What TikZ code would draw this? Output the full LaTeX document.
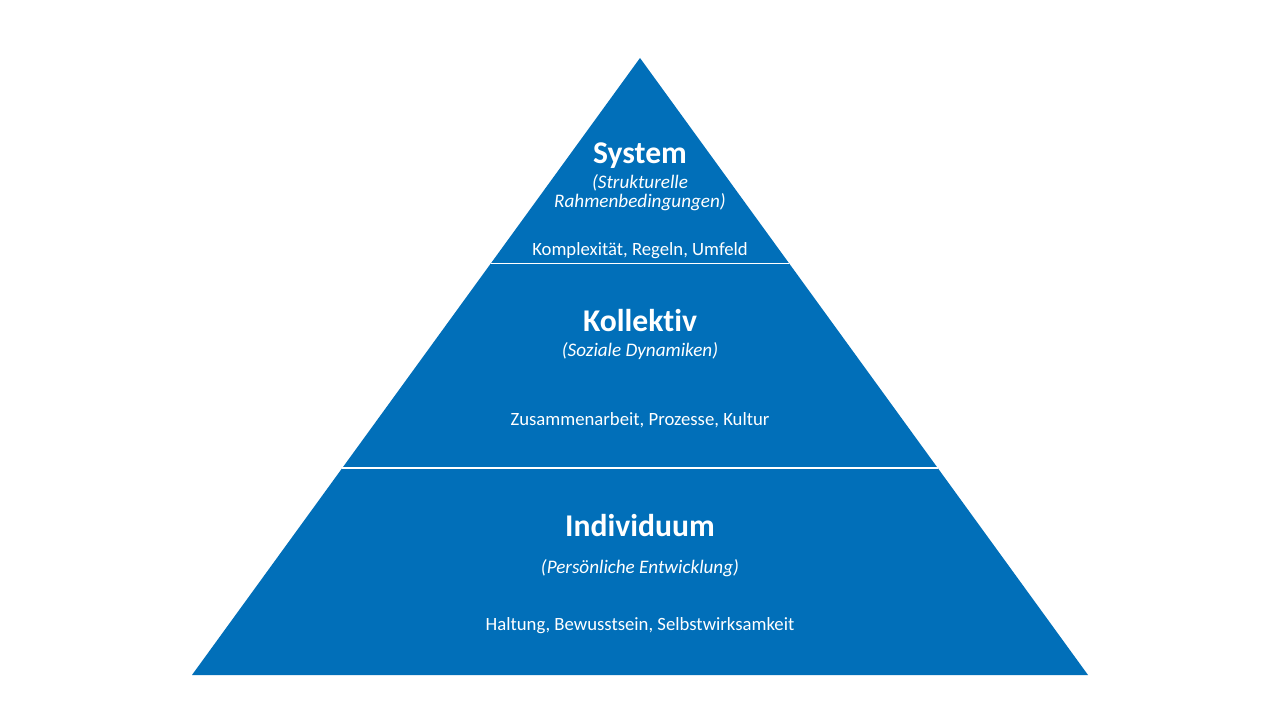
\documentclass[tikz,border=0pt]{standalone}
\usepackage{fontspec}
\setmainfont{Carlito}[Ligatures=NoCommon]
\usetikzlibrary{calc}
\definecolor{pyrblue}{RGB}{1,111,185}

\begin{document}
\begin{tikzpicture}[
      title/.style={text=white,font=\fontsize{18}{21}\selectfont\bfseries},
      subtitle/.style={text=white,font=\fontsize{10.9}{10.9}\selectfont\itshape,align=center},
      keywords/.style={text=white,font=\fontsize{10.65}{12}\selectfont},
      divider/.style={draw=white,line width=0.6pt}]
      \useasboundingbox[fill=white] (0,0) rectangle (25.6,14.4);
      \coordinate (apex) at (12.8,13.24);
      \coordinate (baseL) at (3.84,0.9);
      \coordinate (baseR) at (21.76,0.9);
      \fill[pyrblue] (apex) -- (baseL) -- (baseR) -- cycle;
      % dividing lines between the levels
      \coordinate (s1L) at ($(apex)!0.3323!(baseL)$);
      \coordinate (s1R) at ($(apex)!0.3323!(baseR)$);
      \coordinate (s2L) at ($(apex)!0.6645!(baseL)$);
      \coordinate (s2R) at ($(apex)!0.6645!(baseR)$);
      \draw[divider] (s1L) -- (s1R);
      \draw[divider] (s2L) -- (s2R);
      % top level
      \node[title] (system) at (12.8,11.28) {System};
      \node[subtitle] (systemSub) at (12.8,10.55) {(Strukturelle\\Rahmenbedingungen)};
      \node[keywords] (systemKey) at (12.8,9.38) {Komplexität, Regeln, Umfeld};
      % middle level
      \node[title] (kollektiv) at (12.8,7.98) {Kollektiv};
      \node[subtitle] (kollektivSub) at (12.8,7.38) {(Soziale Dynamiken)};
      \node[keywords] (kollektivKey) at (12.8,6.0) {Zusammenarbeit, Prozesse, Kultur};
      % bottom level
      \node[title] (individuum) at (12.8,3.88) {Individuum};
      \node[subtitle] (individuumSub) at (12.8,3.04) {(Persönliche Entwicklung)};
      \node[keywords] (individuumKey) at (12.8,1.88) {Haltung, Bewusstsein, Selbstwirksamkeit};
    \end{tikzpicture}
\end{document}
